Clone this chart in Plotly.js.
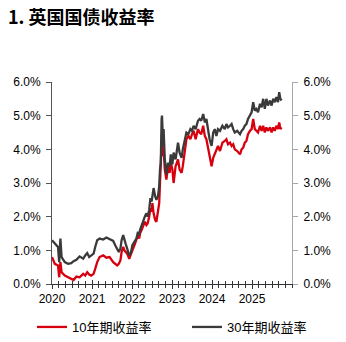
<!DOCTYPE html>
<html><head><meta charset="utf-8">
<script src="https://cdn.plot.ly/plotly-3.0.1.min.js"></script>
<style>html,body{margin:0;padding:0;background:#fff}#c{width:346px;height:342px}</style>
</head><body><div id="c"></div>
<script>
const dates = [2020.00,2020.07,2020.15,2020.18,2020.21,2020.24,2020.32,2020.40,2020.48,2020.54,2020.61,2020.69,2020.78,2020.83,2020.88,2020.93,2020.98,2021.04,2021.08,2021.13,2021.19,2021.28,2021.36,2021.44,2021.53,2021.58,2021.63,2021.67,2021.71,2021.74,2021.78,2021.81,2021.84,2021.88,2021.93,2021.97,2022.01,2022.06,2022.11,2022.15,2022.18,2022.20,2022.24,2022.28,2022.32,2022.36,2022.39,2022.43,2022.46,2022.49,2022.51,2022.54,2022.58,2022.61,2022.65,2022.68,2022.70,2022.72,2022.74,2022.75,2022.76,2022.78,2022.79,2022.82,2022.86,2022.90,2022.94,2022.97,2023.01,2023.04,2023.09,2023.15,2023.19,2023.24,2023.27,2023.32,2023.36,2023.41,2023.46,2023.50,2023.54,2023.59,2023.65,2023.69,2023.73,2023.78,2023.82,2023.86,2023.90,2023.94,2023.99,2024.03,2024.07,2024.11,2024.15,2024.20,2024.26,2024.32,2024.36,2024.40,2024.45,2024.49,2024.53,2024.57,2024.63,2024.70,2024.74,2024.78,2024.82,2024.86,2024.90,2024.95,2024.99,2025.03,2025.07,2025.11,2025.15,2025.20,2025.24,2025.28,2025.32,2025.36,2025.40,2025.45,2025.49,2025.53,2025.57,2025.61,2025.65,2025.68,2025.71,2025.74];
const yield10 = [0.80,0.60,0.55,0.20,0.65,0.35,0.25,0.20,0.15,0.12,0.22,0.20,0.30,0.25,0.35,0.28,0.25,0.30,0.45,0.65,0.80,0.85,0.78,0.80,0.65,0.60,0.55,0.60,0.70,0.95,1.10,1.00,0.95,0.90,0.75,0.85,1.00,1.15,1.30,1.45,1.35,1.50,1.60,1.70,1.85,1.75,1.80,2.00,2.25,2.15,2.40,2.10,1.90,1.85,2.10,2.40,3.00,3.50,4.20,4.50,4.10,3.80,4.00,3.40,3.10,3.50,3.30,3.60,3.40,3.00,3.50,3.70,3.40,3.30,3.50,3.90,4.30,4.40,4.30,4.45,4.55,4.30,4.60,4.50,4.45,4.70,4.40,4.30,4.05,3.70,3.50,3.75,3.85,4.00,4.10,3.95,4.20,4.25,4.30,4.15,4.20,4.10,4.15,4.00,3.95,3.85,4.00,4.05,4.20,4.25,4.45,4.55,4.60,4.90,4.60,4.55,4.50,4.70,4.55,4.70,4.50,4.65,4.55,4.65,4.50,4.65,4.55,4.70,4.60,4.80,4.60,4.65];
const yield30 = [1.30,1.20,1.10,0.65,1.35,0.80,0.65,0.60,0.62,0.68,0.72,0.82,0.75,0.85,0.92,0.80,0.85,0.90,1.10,1.30,1.35,1.32,1.38,1.33,1.28,1.15,1.05,0.95,1.05,1.30,1.45,1.30,1.20,1.05,0.85,0.92,1.15,1.25,1.35,1.55,1.45,1.60,1.75,1.85,2.00,2.10,2.00,2.20,2.55,2.45,2.70,2.85,2.60,2.50,2.60,2.90,3.40,3.60,4.90,5.00,4.70,4.10,4.60,3.70,3.25,3.60,3.50,3.85,3.55,3.90,3.70,4.20,3.90,3.75,4.00,4.30,4.50,4.45,4.60,4.55,4.70,4.60,4.85,4.90,4.85,5.05,4.80,4.90,4.60,4.30,4.10,4.50,4.60,4.40,4.60,4.55,4.70,4.60,4.75,4.65,4.70,4.75,4.60,4.50,4.55,4.45,4.55,4.60,4.70,4.75,4.90,5.00,5.10,5.40,5.15,5.20,5.10,5.35,5.25,5.50,5.20,5.50,5.30,5.45,5.30,5.50,5.40,5.55,5.40,5.70,5.50,5.45];
const yearTicks = [2020,2021,2022,2023,2024,2025];
const yearLabels = ['2020','2021','2022','2023','2024','2025'];
const yTicks = [0,1,2,3,4,5,6];
const yLabels = ['0.0%','1.0%','2.0%','3.0%','4.0%','5.0%','6.0%'];
const names = ['10年期收益率','30年期收益率'];

const F = 'Liberation Sans, Arial, Noto Sans CJK SC, sans-serif';
const traces = [
  {x: dates, y: yield10, name: names[0], type: 'scatter', mode: 'lines', line: {color: '#d7000f', width: 2.3}, legend: 'legend'},
  {x: dates, y: yield30, name: names[1], type: 'scatter', mode: 'lines', line: {color: '#3a3a3a', width: 2.3}, legend: 'legend2'},
  {x: [2020], y: [0], xaxis: 'x2', yaxis: 'y2', showlegend: false, hoverinfo: 'skip', mode: 'markers', marker: {opacity: 0}}
];
const legendBase = {orientation: 'h', xref: 'container', xanchor: 'left', y: 1 - 327/342, yref: 'container', yanchor: 'middle',
                    font: {size: 13, family: F, color: '#000'}, bgcolor: 'rgba(0,0,0,0)'};
const layout = {
  width: 346, height: 342,
  margin: {l: 52, r: 54, t: 82, b: 58},
  paper_bgcolor: '#fff', plot_bgcolor: '#fff',
  font: {family: F, size: 12, color: '#000'},
  title: {text: '<b>1. 英国国债收益率</b>', x: 8/346, xanchor: 'left', xref: 'container', y: 1 - 18/342, yanchor: 'middle', yref: 'container',
          font: {family: 'Noto Sans CJK SC, sans-serif', size: 18, color: '#000'}},
  xaxis: {range: [2020, 2026], tickvals: yearTicks, ticktext: yearLabels, ticks: 'outside', ticklen: 4, tickcolor: '#333', tickwidth: 1,
          showline: true, linecolor: '#333', linewidth: 1, showgrid: false, zeroline: false,
          minor: {dtick: 1/6, tick0: 2020, ticks: 'outside', ticklen: 3, tickcolor: '#333', showgrid: false},
          tickfont: {size: 12, family: F}},
  xaxis2: {range: [2020, 2026], overlaying: 'x', anchor: 'y', side: 'bottom', tickvals: yearTicks.concat([2026]), ticktext: ['','','','','','',''],
           ticks: 'inside', ticklen: 4, tickcolor: '#333', showline: false, showgrid: false, zeroline: false,
           minor: {dtick: 1/6, tick0: 2020, ticks: 'inside', ticklen: 3, tickcolor: '#333', showgrid: false}},
  yaxis: {range: [0, 6], tickvals: yTicks, ticktext: yLabels, ticks: 'outside', ticklen: 5, tickcolor: '#555', ticklabelstandoff: 3,
          showline: true, linecolor: '#555', linewidth: 1, showgrid: false, zeroline: false, tickfont: {size: 12, family: F}},
  yaxis2: {range: [0, 6], overlaying: 'y', side: 'right', anchor: 'x', tickvals: yTicks, ticktext: yLabels, ticks: 'outside', ticklen: 5, tickcolor: '#a6a6a6', ticklabelstandoff: 3,
           showline: true, linecolor: '#a6a6a6', linewidth: 1, showgrid: false, zeroline: false, tickfont: {size: 12, family: F}},
  showlegend: true,
  legend: Object.assign({}, legendBase, {x: 32/346}),
  legend2: Object.assign({}, legendBase, {x: 187/346})
};
Plotly.newPlot('c', traces, layout, {displayModeBar: false, staticPlot: true});
</script></body></html>
